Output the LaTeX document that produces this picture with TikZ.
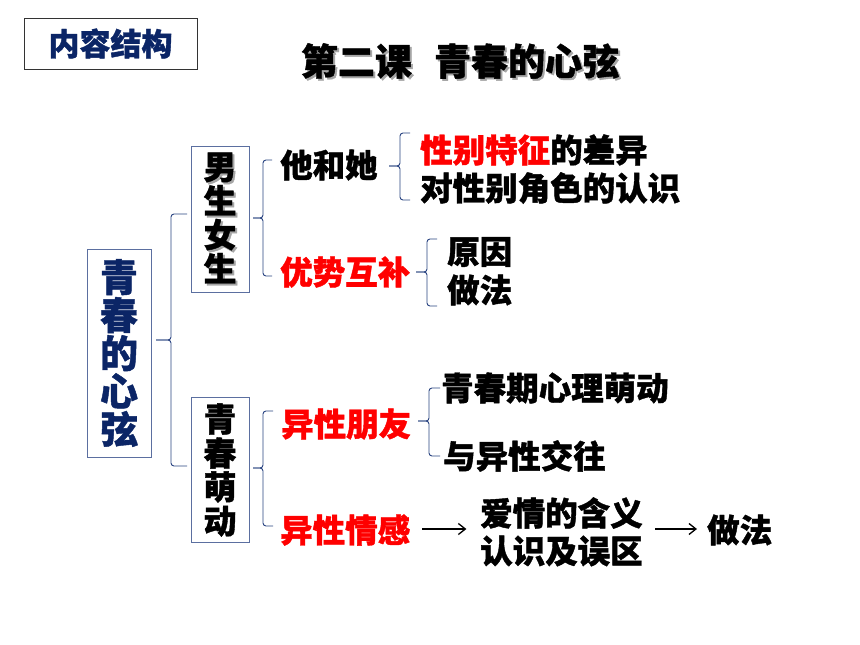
\documentclass[tikz,border=0pt]{standalone}
\usepackage{fontspec}
\setmainfont{Noto Sans CJK SC}[BoldFeatures={FakeBold=1.2}]
\usetikzlibrary{arrows.meta}
\definecolor{navy}{HTML}{0B2566}
\definecolor{bxc}{HTML}{5B6FA0}
\definecolor{brc}{HTML}{2A4482}
\definecolor{red}{HTML}{FF0000}
\tikzset{
  txt/.style={inner sep=0pt, anchor=west, font=\fontsize{32.5}{34}\selectfont\bfseries},
  vbox/.style={draw=bxc, line width=0.9pt, inner sep=0pt, align=center},
  brline/.style={draw=brc, line width=0.9pt, rounded corners=3pt},
  arr/.style={draw=black, line width=1.3pt, -{Straight Barb[length=7pt,width=11pt]}},
}
\newcommand\mybr[6]{% tip, v, e, top, mid, bot
  \draw[brline] (#3,#4) -- (#2,#4) -- (#2,#5) -- (#1,#5);
  \draw[brline] (#3,#6) -- (#2,#6) -- (#2,#5) -- (#1,#5);
}
\newcommand\shd[1]{\makebox[0pt][l]{\hspace{2pt}\raisebox{-2pt}{\textcolor{black!35}{#1}}}#1}
\begin{document}
\begin{tikzpicture}[x=1pt,y=-1pt]
\useasboundingbox (0,0) rectangle (860,645);
\fill[white] (0,0) rectangle (860,645);
% header box
\node[draw=black!80, line width=0.9pt, minimum width=173pt, minimum height=51pt, inner sep=0pt,
  text=navy, font=\fontsize{31}{32}\selectfont\bfseries] (nrjg) at (110.5,43.5) {内容结构};
% title
\node[text=black, font=\fontsize{37}{38}\selectfont\bfseries] (title) at (460,62) {\shd{第二课\hspace{0.6em}青春的心弦}};
% left box
\node[vbox, minimum width=64pt, minimum height=208pt, text=navy,
  font=\fontsize{38}{38}\selectfont\bfseries] (qcdxx) at (119,353) {青\\春\\的\\心\\弦};
% 男生女生
\node[vbox, minimum width=58pt, minimum height=146pt, font=\fontsize{33}{34}\selectfont\bfseries] (nsns) at (220,219) {\shd{男}\\\shd{生}\\\shd{女}\\\shd{生}};
% 青春萌动
\node[vbox, minimum width=58pt, minimum height=145pt, font=\fontsize{33}{34}\selectfont\bfseries] (qcmd) at (220,470) {青\\春\\萌\\动};
% second level
\node[txt] (thb) at (280,165) {他和她};
\node[txt, text=red] (yshb) at (280,272) {优势互补};
\node[txt, text=red] (yxpy) at (281,424) {异性朋友};
\node[txt, text=red] (yxqg) at (280,530) {异性情感};
% third level
\node[txt] (xbtz) at (420,150) {\textcolor{red}{性别特征}的差异};
\node[txt] (dxb) at (420,188) {对性别角色的认识};
\node[txt] (yy) at (447,252) {原因};
\node[txt] (zf1) at (447,290) {做法};
\node[txt] (qcq) at (441,388) {青春期心理萌动};
\node[txt] (yyx) at (443,456) {与异性交往};
\node[txt] (aq) at (480,513) {爱情的含义};
\node[txt] (rs) at (480,551) {认识及误区};
\node[txt] (zf2) at (707,530) {做法};
% braces
\mybr{156}{171}{187}{214}{340}{466}
\mybr{253}{263}{272}{160}{218}{276}
\mybr{389}{400}{410}{133}{166}{200}
\mybr{416}{427}{437}{239}{272}{306}
\mybr{253}{263}{273}{411}{468}{526}
\mybr{418}{429}{440}{388}{421}{456}
% arrows
\coordinate (a1s) at ([xshift=12pt,yshift=1pt]yxqg.east);
\coordinate (a1e) at ([xshift=56pt,yshift=1pt]yxqg.east);
\draw[arr] (a1s) -- (a1e);
\draw[arr] ([xshift=-52pt,yshift=1pt]zf2.west) -- ([xshift=-10pt,yshift=1pt]zf2.west);
\end{tikzpicture}
\end{document}
